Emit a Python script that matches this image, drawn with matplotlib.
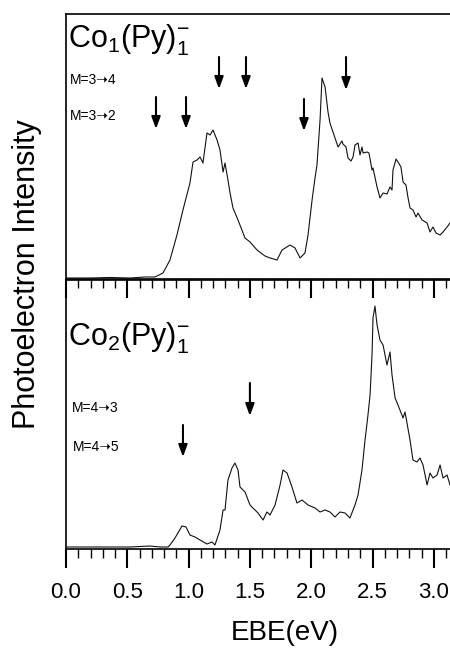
import matplotlib
matplotlib.use("Agg")
import matplotlib.pyplot as plt
from matplotlib.ticker import MultipleLocator

plt.rcParams['font.family'] = ['Liberation Sans', 'DejaVu Sans']
plt.rcParams['mathtext.fontset'] = 'custom'
plt.rcParams['mathtext.rm'] = 'Liberation Sans'
plt.rcParams['mathtext.it'] = 'Liberation Sans:italic'
plt.rcParams['mathtext.bf'] = 'Liberation Sans:bold'

# ---- data: upper panel Co1(Py)1- ----
ebe_top = [0.000, 0.196, 0.359, 0.522, 0.644, 0.726, 0.791, 0.848, 0.905, 0.954,
           1.011, 1.036, 1.069, 1.093, 1.117, 1.150, 1.175, 1.199, 1.232, 1.256,
           1.281, 1.297, 1.321, 1.338, 1.362, 1.403, 1.460, 1.501, 1.558, 1.623,
           1.664, 1.721, 1.762, 1.827, 1.868, 1.909, 1.949, 1.974, 2.007, 2.031,
           2.047, 2.072, 2.088, 2.113, 2.137, 2.153, 2.194, 2.219, 2.251, 2.259,
           2.284, 2.300, 2.325, 2.341, 2.357, 2.382, 2.398, 2.414, 2.423, 2.455,
           2.471, 2.496, 2.504, 2.537, 2.561, 2.586, 2.618, 2.643, 2.659, 2.667,
           2.692, 2.708, 2.732, 2.749, 2.773, 2.790, 2.806, 2.830, 2.855, 2.871,
           2.904, 2.945, 2.969, 2.993, 3.018, 3.051, 3.075, 3.108, 3.132]
int_top = [1, 1, 1.5, 1, 2, 2, 6, 19, 44, 69,
           96, 117, 119, 122, 116, 146, 144, 149, 139, 129,
           107, 116, 99, 86, 71, 59, 41, 37, 29, 23,
           21, 19, 29, 34, 31, 21, 26, 44, 79, 101,
           114, 159, 201, 192, 167, 156, 141, 132, 138, 135,
           132, 121, 118, 122, 134, 136, 124, 132, 126, 127,
           126, 109, 111, 92, 81, 86, 85, 92, 89, 109,
           120, 117, 112, 97, 94, 81, 71, 69, 62, 66,
           59, 56, 47, 52, 46, 44, 47, 52, 56]

# ---- data: lower panel Co2(Py)1- ----
ebe_bot = [0.000, 0.277, 0.522, 0.685, 0.767, 0.832, 0.848, 0.889, 0.946, 0.979,
           1.011, 1.052, 1.093, 1.150, 1.191, 1.215, 1.256, 1.281, 1.297, 1.321,
           1.354, 1.378, 1.403, 1.419, 1.460, 1.501, 1.525, 1.566, 1.607, 1.639,
           1.664, 1.705, 1.746, 1.770, 1.803, 1.843, 1.884, 1.925, 1.974, 2.031,
           2.072, 2.113, 2.153, 2.194, 2.235, 2.276, 2.316, 2.357, 2.382, 2.414,
           2.439, 2.463, 2.480, 2.496, 2.504, 2.520, 2.537, 2.561, 2.586, 2.618,
           2.643, 2.659, 2.684, 2.708, 2.749, 2.765, 2.806, 2.830, 2.863, 2.887,
           2.912, 2.945, 2.969, 2.993, 3.026, 3.051, 3.075, 3.108, 3.132]
int_bot = [2, 2, 2, 3, 2, 2, 4, 11, 23, 22,
           14, 12, 9, 5, 7, 4, 19, 39, 39, 69,
           81, 86, 79, 62, 57, 44, 41, 36, 29, 37,
           34, 44, 64, 79, 76, 62, 46, 49, 44, 41,
           37, 39, 37, 32, 37, 36, 31, 44, 54, 79,
           109, 134, 154, 194, 231, 243, 224, 209, 204, 184,
           197, 174, 151, 144, 131, 137, 109, 89, 87, 91,
           84, 64, 76, 71, 74, 84, 71, 74, 64]

# ---- annotation arrows (x position, tail, head) ----
arrows_top_x = [1.248, 1.468, 2.284, 0.734, 0.979, 1.941]
arrows_top_y0 = [222, 222, 222, 182, 182, 180]
arrows_top_y1 = [190, 190, 189, 150, 150, 148]
arrows_bot_x = [0.954, 1.500]
arrows_bot_y0 = [124, 166]
arrows_bot_y1 = [92, 133]

titles = [r'Co$_1$(Py)$_1^{-}$', r'Co$_2$(Py)$_1^{-}$']
labels_top = ['M=3\u279d4', 'M=3\u279d2']
labels_bot = ['M=4\u279d3', 'M=4\u279d5']
xticks = [0.0, 0.5, 1.0, 1.5, 2.0, 2.5, 3.0]
xtick_labels = ['0.0', '0.5', '1.0', '1.5', '2.0', '2.5', '3.0']

W, H = 450, 648
fig = plt.figure(figsize=(4.5, 6.48), dpi=100)
x0 = 66 / W
ax_bot = fig.add_axes([x0, 1 - 549 / H, 1 - x0, 269 / H])
ax_top = fig.add_axes([x0, 1 - 279 / H, 1 - x0, 265 / H])

for ax in (ax_top, ax_bot):
    ax.patch.set_alpha(0)
    ax.set_xlim(0, 3.132)
    ax.spines['right'].set_visible(False)
    for s in ('left', 'top', 'bottom'):
        ax.spines[s].set_linewidth(1.2)
    ax.set_yticks([])
    ax.xaxis.set_major_locator(MultipleLocator(0.5))
    ax.xaxis.set_minor_locator(MultipleLocator(0.1))
    ax.tick_params(axis='x', which='major', direction='out', length=13.5, width=1.5,
                   top=False, bottom=True)
    ax.tick_params(axis='x', which='minor', direction='out', length=6.5, width=1.0,
                   top=False, bottom=True)

ax_top.set_ylim(0, 265)
ax_bot.set_ylim(0, 269)

ax_top.plot(ebe_top, int_top, color='#111111', lw=0.8)
ax_bot.plot(ebe_bot, int_bot, color='#111111', lw=0.8)

ax_top.tick_params(axis='x', labelbottom=False)
ax_bot.set_xticks(xticks)
ax_bot.set_xticklabels(xtick_labels)
ax_bot.tick_params(axis='x', which='major', labelsize=16, pad=10)
ax_bot.set_xlabel('EBE(eV)', fontsize=20)
ax_bot.xaxis.set_label_coords((285 - 66) / 384, -0.265)

ax_top.text(0.005, 0.875, titles[0], transform=ax_top.transAxes, fontsize=22,
            ha='left', va='baseline')
ax_bot.text(0.005, 0.758, titles[1], transform=ax_bot.transAxes, fontsize=22,
            ha='left', va='baseline')

lab_fs = 10
ax_top.text((70 - 66) / 384, 0.751, labels_top[0], transform=ax_top.transAxes,
            fontsize=lab_fs, ha='left', va='center')
ax_top.text((70 - 66) / 384, 0.615, labels_top[1], transform=ax_top.transAxes,
            fontsize=lab_fs, ha='left', va='center')
ax_bot.text((72 - 66) / 384, 0.524, labels_bot[0], transform=ax_bot.transAxes,
            fontsize=lab_fs, ha='left', va='center')
ax_bot.text((73 - 66) / 384, 0.379, labels_bot[1], transform=ax_bot.transAxes,
            fontsize=lab_fs, ha='left', va='center')

aprops = dict(arrowstyle='-|>,head_length=0.6,head_width=0.22', lw=1.5,
              color='black', shrinkA=0, shrinkB=0, mutation_scale=12)
for x, y0, y1 in zip(arrows_top_x, arrows_top_y0, arrows_top_y1):
    ax_top.annotate('', xy=(x, y1), xytext=(x, y0), arrowprops=aprops)
for x, y0, y1 in zip(arrows_bot_x, arrows_bot_y0, arrows_bot_y1):
    ax_bot.annotate('', xy=(x, y1), xytext=(x, y0), arrowprops=aprops)

fig.text(27 / W, 1 - 274 / H, 'Photoelectron Intensity', rotation=90,
         fontsize=22, ha='center', va='center')

fig.savefig('out.png', dpi=100)
